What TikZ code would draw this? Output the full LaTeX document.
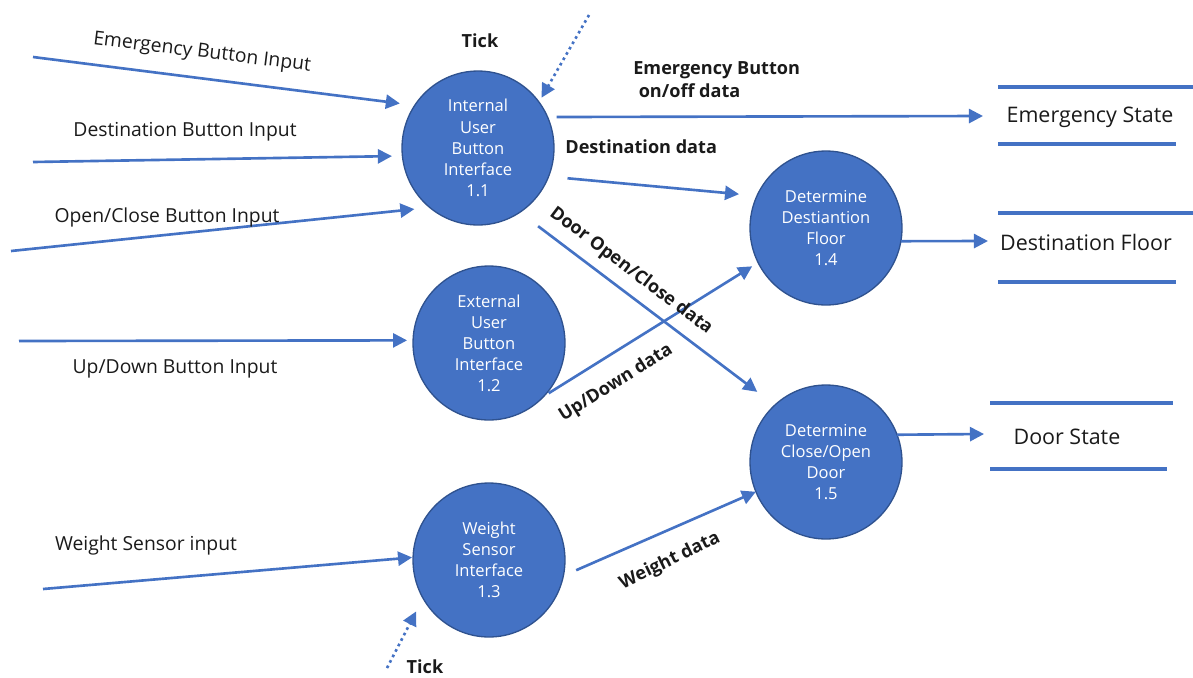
\documentclass[tikz,border=0pt]{standalone}
\usepackage{fontspec}
\setmainfont{Open Sans}
\usetikzlibrary{arrows.meta,shapes.geometric}
\definecolor{blu}{HTML}{4472C4}
\definecolor{bord}{HTML}{2F528F}
\definecolor{ink}{HTML}{1A1A1A}
\begin{document}
\begin{tikzpicture}[x=0.02cm,y=-0.02cm,
 proc/.style={ellipse,fill=blu,draw=bord,line width=0.75pt,minimum width=3.04cm,minimum height=3.08cm,inner sep=0pt,outer sep=0pt,text=white,align=center,font=\fontsize{9.4}{12}\selectfont},
 flow/.style={draw=blu,line width=1.5pt,-{Triangle[length=8pt,width=8pt]}},
 tickflow/.style={draw=blu,line width=1.5pt,dotted,-{Triangle[length=8pt,width=8pt]}},
 lbl/.style={font=\fontsize{11}{13}\selectfont,inner sep=0pt,text=ink},
 blbl/.style={font=\fontsize{10.3}{13}\selectfont\bfseries,inner sep=0pt,text=ink},
 store/.style={draw=blu,line width=2.2pt},
 stxt/.style={font=\fontsize{12.2}{14}\selectfont,inner sep=0pt,text=ink}
]
\path[use as bounding box] (0,0) rectangle (1193,677);

% processes
\node[proc] (p11) at (478,148) {Internal\\User\\Button\\Interface\\1.1};
\node[proc] (p12) at (489,343) {External\\User\\Button\\Interface\\1.2};
\node[proc] (p13) at (489,560) {Weight\\Sensor\\Interface\\1.3};
\node[proc] (p14) at (826,228) {Determine\\Destiantion\\Floor\\1.4};
\node[proc] (p15) at (826,462) {Determine\\Close/Open\\Door\\1.5};

% stores
\node[stxt] (es) at (1090,117) {Emergency State};
\node[stxt] (df) at (1086,242) {Destination Floor};
\node[stxt] (ds) at (1067,437) {Door State};
\draw[store] (998,87) -- (1193,87);
\draw[store] (998,144) -- (1176,144);
\draw[store] (998,213) -- (1193,213);
\draw[store] (998,282) -- (1176,282);
\draw[store] (990,403) -- (1173,403);
\draw[store] (990,469) -- (1167,469);

% free ends
\coordinate (a0) at (33,57);
\coordinate (b0) at (33,162);
\coordinate (c0) at (11,251);
\coordinate (t1) at (589,15);
\coordinate (esin) at (983,116);
\coordinate (dfin) at (988,241);
\coordinate (dsin) at (984,434);
\coordinate (u0) at (19,341);
\coordinate (w0) at (43,589);
\coordinate (t2) at (387,668);

% inputs to 1.1
\draw[flow,shorten >=0.30cm] (a0) -- (p11.146.4);
\draw[flow,shorten >=0.21cm] (b0) -- (p11.186.7);
\draw[flow,shorten >=0.31cm] (c0) -- (p11.231.4);
\draw[tickflow,shorten >=0.10cm] (t1) -- (p11.37.1);

% outputs of 1.1
\draw[flow,shorten <=0.18cm] (p11.24.9) -- (esin);
\draw[flow,shorten <=0.38cm,shorten >=0.36cm] (p11.-22.6) -- (p14.155.6);
\draw[flow,shorten <=0.46cm,shorten >=0.44cm] (p11.-57.6) -- (p15.132.2);

% 1.2
\draw[flow,shorten >=0.12cm] (u0) -- (p12.178.5);
\draw[flow,shorten <=0.11cm,shorten >=0.14cm] (p12.-44.7) -- (p14.207.4);

% 1.3
\draw[flow,shorten >=0.02cm] (w0) -- (p13.178.5);
\draw[tickflow,shorten >=0.30cm] (t2) -- (p13.210.5);
\draw[flow,shorten <=0.28cm] (p13.-12.4) -- (p15.203.5);

% to stores
\draw[flow] (p14.-10) -- (dfin);
\draw[flow] (p15.21) -- (dsin);

% labels
\node[lbl,rotate=-7] (la) at (202,53) {Emergency Button Input};
\node[lbl] (lb) at (185,132) {Destination Button Input};
\node[lbl] (lc) at (167,217) {Open/Close Button Input};
\node[lbl] (lu) at (175,369) {Up/Down Button Input};
\node[lbl] (lw) at (146,545) {Weight Sensor input};
\node[blbl] (tk1) at (480,41) {Tick};
\node[blbl] (tk2) at (425,667) {Tick};
\node[blbl,align=left,anchor=west] (le) at (633,80) {Emergency Button\\\hspace*{0.3em}on/off data};
\node[blbl,anchor=west] (lf) at (565,147) {Destination data};
\node[blbl,rotate=-37] (lg) at (631,271) {Door Open/Close data};
\node[blbl,rotate=32] (lh) at (616,383) {Up/Down data};
\node[blbl,rotate=26] (ll) at (670,561) {Weight data};
\end{tikzpicture}
\end{document}
